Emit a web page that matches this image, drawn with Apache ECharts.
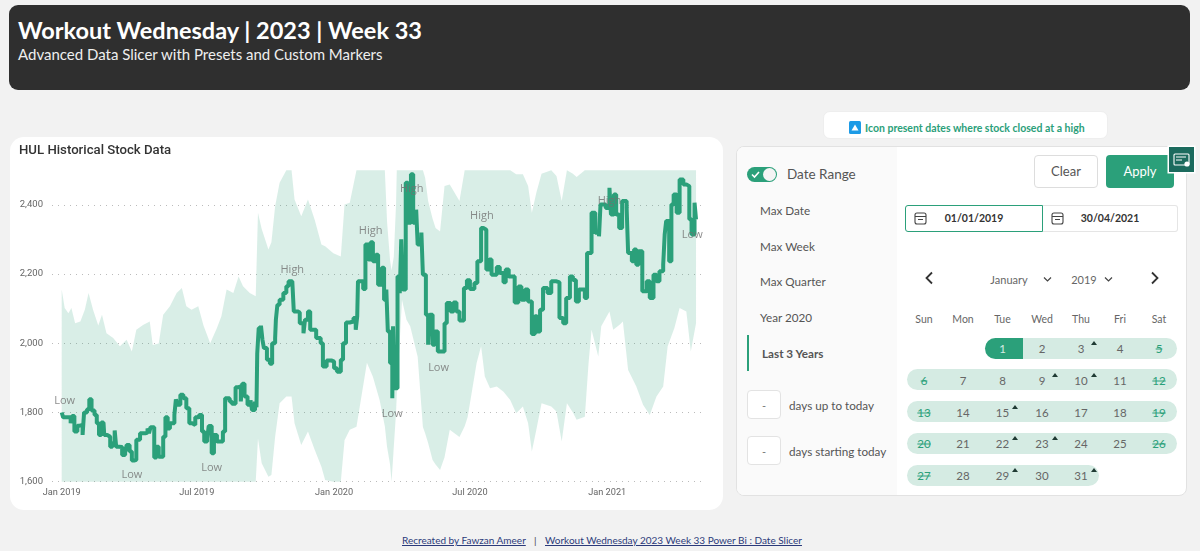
<!DOCTYPE html>
<html>
<head>
<meta charset="utf-8">
<title>Workout Wednesday 2023 Week 33</title>
<script src="https://cdn.jsdelivr.net/npm/echarts@6/dist/echarts.min.js"></script>
<style>
    html, body { margin: 0; padding: 0; background: #f2f2f2; }
    body { width: 1200px; height: 551px; position: relative; overflow: hidden; font-family: Lato, sans-serif; color: #555; }
    .abs { position: absolute; white-space: nowrap; }
    .mid { transform: translateY(-50%); }
    .ctr { transform: translate(-50%, -50%); }
    .box { position: absolute; box-sizing: border-box; background: #fff; }
    #header { left: 9px; top: 5px; width: 1181px; height: 85px; background: #2f2f2f; border-radius: 9px; }
    #card { left: 10px; top: 137px; width: 713px; height: 373px; border-radius: 14px; }
    #main { position: absolute; left: 10px; top: 137px; width: 713px; height: 373px; }
    #panel { left: 736px; top: 146px; width: 451px; height: 350px; border: 1px solid #e2e2e2; border-radius: 8px; overflow: hidden; }
    #panelLeft { position: absolute; left: 0; top: 0; width: 160px; height: 100%; background: #fafafa; }
    .menu { font-size: 11.7px; color: #555; }
    .pill { position: absolute; height: 21px; background: #d5ebe3; border-radius: 11px; }
    .day { font-size: 11.5px; color: #666; }
    .off { color: #2ba07a; text-decoration: line-through; }
    .up { position: absolute; width: 0; height: 0; border-left: 3.5px solid transparent; border-right: 3.5px solid transparent; border-bottom: 4px solid #1f3a33; }
    a { color: #2b3a7a; font-size: 10px; }
</style>
</head>
<body>
    <div class="box" id="header"></div>
    <div class="abs" style="left:18px;top:30px;transform:translateY(-50%);font-size:23.5px;font-weight:700;color:#fff">Workout Wednesday | 2023 | Week 33</div>
    <div class="abs" style="left:18px;top:54px;transform:translateY(-50%);font-size:15px;color:#eee">Advanced Data Slicer with Presets and Custom Markers</div>

    <div class="box" id="card"></div>
    <div id="main"></div>

    <div class="box" style="left:823px;top:111px;width:285px;height:28px;border-radius:7px;border:1px solid #eee"></div>
    <svg class="abs" style="left:849px;top:121px" width="12" height="13"><rect width="12" height="13" rx="1.5" fill="#1d9be6"/><path d="M6 3.5L9.5 9.5H2.5Z" fill="#fff"/></svg>
    <div class="abs mid" style="left:865px;top:128px;font-size:10.5px;font-weight:700;color:#2ba07a">Icon present dates where stock closed at a high</div>

    <div class="box" id="panel"><div id="panelLeft"></div></div>
    <div class="abs" style="left:747px;top:167px;width:30px;height:15px;border-radius:8px;background:#2ba07a"></div>
    <div class="abs" style="left:763px;top:168px;width:13px;height:13px;border-radius:50%;background:#f4f4f4"></div>
    <svg class="abs" style="left:751px;top:170px" width="9" height="9"><path d="M1 4.5L3.5 7L8 2" stroke="#fff" stroke-width="1.6" fill="none"/></svg>
    <div class="abs mid" style="left:787px;top:174px;font-size:13.5px;color:#555">Date Range</div>
    <div class="abs mid menu" style="left:760px;top:210px">Max Date</div>
    <div class="abs mid menu" style="left:760px;top:246px">Max Week</div>
    <div class="abs mid menu" style="left:760px;top:281px">Max Quarter</div>
    <div class="abs mid menu" style="left:760px;top:317px">Year 2020</div>
    <div class="abs mid menu" style="left:762px;top:353px;font-weight:700">Last 3 Years</div>
    <div class="abs" style="left:747px;top:335px;width:2px;height:36px;background:#2ba07a"></div>
    <div class="box" style="left:747px;top:390px;width:34px;height:29px;border:1px solid #e3e3e3;border-radius:4px"></div>
    <div class="abs ctr" style="left:764px;top:405px;font-size:11px;color:#777">-</div>
    <div class="abs mid menu" style="left:789px;top:405px">days up to today</div>
    <div class="box" style="left:747px;top:436px;width:34px;height:29px;border:1px solid #e3e3e3;border-radius:4px"></div>
    <div class="abs ctr" style="left:764px;top:451px;font-size:11px;color:#777">-</div>
    <div class="abs mid menu" style="left:789px;top:451px">days starting today</div>

    <div class="box" style="left:1034px;top:155px;width:64px;height:33px;border:1px solid #ddd;border-radius:4px"></div>
    <div class="abs ctr" style="left:1066px;top:171px;font-size:13px;color:#555">Clear</div>
    <div class="box" style="left:1106px;top:155px;width:68px;height:33px;background:#2ba07a;border-radius:4px"></div>
    <div class="abs ctr" style="left:1140px;top:171px;font-size:13px;color:#fff">Apply</div>
    <svg class="abs" style="left:1167px;top:145px" width="29" height="29"><rect x="0.5" y="0.5" width="28" height="28" fill="#fff"/><rect x="2" y="2" width="25" height="25" fill="#1c6b5e"/><rect x="7" y="9" width="15" height="11" rx="1" fill="none" stroke="#fff" stroke-width="1.1"/><path d="M9 12H19M9 15H15" stroke="#fff" stroke-width="1"/><circle cx="20" cy="19" r="2.6" fill="#fff"/></svg>

    <div class="box" style="left:905px;top:205px;width:138px;height:27px;border:1px solid #2ba07a;border-radius:3px 0 0 3px"></div>
    <div class="box" style="left:1043px;top:205px;width:135px;height:27px;border:1px solid #e5e5e5;border-left:0;border-radius:0 3px 3px 0"></div>
    <svg class="abs" style="left:914px;top:212px" width="13" height="13"><rect x="1" y="1" width="11" height="11" rx="2" fill="none" stroke="#444" stroke-width="1.1"/><path d="M1 4.5H12M4 7.5H9" stroke="#444" stroke-width="1"/></svg>
    <svg class="abs" style="left:1051px;top:212px" width="13" height="13"><rect x="1" y="1" width="11" height="11" rx="2" fill="none" stroke="#444" stroke-width="1.1"/><path d="M1 4.5H12M4 7.5H9" stroke="#444" stroke-width="1"/></svg>
    <div class="abs ctr" style="left:974px;top:218px;font-size:10.5px;font-weight:700;color:#333">01/01/2019</div>
    <div class="abs ctr" style="left:1110px;top:218px;font-size:10.5px;font-weight:700;color:#333">30/04/2021</div>

    <svg class="abs" style="left:924px;top:271px" width="10" height="14"><path d="M8 1.5L2.5 7L8 12.5" stroke="#333" stroke-width="1.8" fill="none"/></svg>
    <svg class="abs" style="left:1150px;top:271px" width="10" height="14"><path d="M2 1.5L7.5 7L2 12.5" stroke="#333" stroke-width="1.8" fill="none"/></svg>
    <div class="abs ctr" style="left:1009px;top:279px;font-size:11px;color:#666">January</div>
    <svg class="abs" style="left:1043px;top:276px" width="9" height="7"><path d="M1 1.5L4.5 5L8 1.5" stroke="#444" stroke-width="1.2" fill="none"/></svg>
    <div class="abs ctr" style="left:1084px;top:279px;font-size:11px;color:#666">2019</div>
    <svg class="abs" style="left:1104px;top:276px" width="9" height="7"><path d="M1 1.5L4.5 5L8 1.5" stroke="#444" stroke-width="1.2" fill="none"/></svg>

    <div id="calendar"></div>

    <a class="abs mid" style="left:402px;top:540px" href="#">Recreated by Fawzan Ameer</a>
    <div class="abs mid" style="left:534px;top:540px;font-size:10px;color:#444">|</div>
    <a class="abs mid" style="left:545px;top:540px" href="#">Workout Wednesday 2023 Week 33 Power Bi : Date Slicer</a>

    <script>
        // x axis is days since 1 Jan 2019
        var tickDays = [0, 181, 365, 547, 731];
        var tickLabels = ['Jan 2019', 'Jul 2019', 'Jan 2020', 'Jul 2020', 'Jan 2021'];
        var yTicks = [1600, 1800, 2000, 2200, 2400];

        var closeDays = [0, 2, 9, 12, 14, 17, 21, 24, 28, 30, 34, 37, 40, 44, 47, 50, 53, 56, 57, 61, 65, 68, 71, 73, 77, 81, 85, 87, 91, 94, 97, 100, 105, 112, 115, 117, 119, 124, 127, 130, 133, 136, 139, 142, 145, 151, 153, 155, 159, 163, 167, 171, 175, 179, 184, 188, 191, 195, 197, 201, 204, 208, 216, 219, 225, 228, 233, 237, 240, 242, 245, 249, 253, 255, 259, 261, 262, 264, 267, 269, 271, 275, 279, 282, 286, 287, 289, 292, 297, 301, 304, 309, 311, 316, 319, 324, 326, 330, 333, 337, 341, 347, 350, 355, 362, 365, 369, 374, 377, 381, 386, 391, 394, 396, 397, 404, 407, 411, 414, 417, 421, 424, 429, 432, 435, 437, 440, 443, 444, 446, 450, 453, 455, 457, 461, 464, 468, 471, 475, 477, 482, 484, 488, 491, 493, 497, 500, 504, 510, 513, 516, 521, 525, 529, 533, 539, 543, 547, 553, 557, 562, 565, 569, 573, 576, 583, 587, 592, 595, 599, 607, 612, 616, 621, 625, 630, 634, 637, 641, 645, 651, 656, 663, 667, 672, 676, 681, 685, 689, 693, 701, 704, 710, 715, 720, 722, 729, 734, 736, 740, 743, 747, 751, 757, 759, 764, 767, 770, 773, 778, 784, 788, 793, 797, 801, 806, 808, 810, 814, 817, 820, 824, 828, 833, 837, 841, 844, 848, 850];
        var closes = [1800, 1786, 1786, 1769, 1790, 1745, 1762, 1764, 1735, 1800, 1809, 1838, 1806, 1793, 1769, 1735, 1771, 1773, 1735, 1730, 1701, 1711, 1748, 1701, 1700, 1677, 1684, 1706, 1687, 1661, 1663, 1721, 1740, 1742, 1754, 1740, 1757, 1670, 1701, 1672, 1672, 1730, 1786, 1754, 1769, 1793, 1838, 1822, 1851, 1841, 1812, 1769, 1764, 1786, 1793, 1745, 1716, 1725, 1761, 1682, 1735, 1716, 1745, 1841, 1832, 1825, 1873, 1875, 1832, 1883, 1846, 1822, 1835, 1807, 1832, 1815, 1970, 2044, 2051, 2010, 1986, 1952, 1941, 2000, 2015, 2068, 2111, 2126, 2145, 2165, 2179, 2179, 2092, 2089, 2058, 2029, 2068, 2092, 2039, 2039, 2015, 2000, 1933, 1950, 1947, 1928, 1918, 1952, 2000, 2060, 2063, 2073, 2039, 2078, 2179, 2157, 2285, 2242, 2292, 2237, 2256, 2169, 2218, 2126, 2155, 2034, 1943, 1841, 2049, 1870, 2193, 2145, 2300, 2155, 2464, 2348, 2488, 2348, 2386, 2285, 2320, 2198, 2082, 1996, 2082, 1996, 2034, 1976, 1976, 2058, 2116, 2092, 2118, 2092, 2066, 2160, 2182, 2157, 2174, 2237, 2333, 2328, 2213, 2242, 2198, 2220, 2203, 2176, 2213, 2193, 2118, 2164, 2126, 2155, 2121, 2027, 2078, 2034, 2097, 2160, 2145, 2179, 2176, 2073, 2058, 2131, 2193, 2183, 2121, 2155, 2131, 2261, 2377, 2319, 2309, 2401, 2391, 2449, 2372, 2430, 2372, 2333, 2411, 2391, 2261, 2237, 2271, 2227, 2266, 2150, 2179, 2131, 2198, 2179, 2208, 2227, 2314, 2353, 2237, 2401, 2430, 2377, 2473, 2459, 2454, 2358, 2314, 2406, 2358];

        var bandDays = [0, 4, 9, 13, 18, 25, 31, 36, 42, 49, 54, 60, 69, 78, 87, 94, 100, 109, 118, 122, 130, 136, 145, 154, 161, 167, 174, 183, 190, 199, 208, 214, 221, 230, 237, 243, 252, 260, 263, 268, 277, 281, 286, 292, 301, 308, 312, 321, 330, 339, 348, 353, 364, 374, 379, 386, 395, 409, 417, 426, 433, 436, 440, 442, 445, 448, 449, 456, 462, 467, 477, 484, 487, 491, 497, 501, 507, 513, 520, 533, 540, 544, 556, 562, 567, 574, 583, 592, 601, 609, 618, 625, 630, 636, 643, 656, 663, 670, 677, 685, 690, 701, 706, 710, 719, 723, 734, 739, 748, 752, 759, 770, 779, 788, 797, 806, 812, 821, 828, 837, 843, 850];
        var bandLow = [1600, 1600, 1600, 1600, 1600, 1600, 1600, 1600, 1600, 1600, 1600, 1600, 1600, 1600, 1600, 1600, 1600, 1600, 1600, 1600, 1600, 1600, 1600, 1600, 1600, 1600, 1600, 1600, 1600, 1600, 1600, 1600, 1600, 1600, 1600, 1600, 1600, 1600, 1725, 1653, 1614, 1619, 1730, 1827, 1846, 1846, 1769, 1706, 1745, 1692, 1643, 1605, 1600, 1600, 1720, 1750, 1759, 1944, 1903, 1836, 1760, 1700, 1650, 1600, 1700, 1800, 1850, 2126, 2068, 2049, 1961, 1758, 1740, 1712, 1663, 1650, 1634, 1671, 1750, 1729, 1760, 1787, 1943, 1991, 1904, 1870, 1875, 1860, 1836, 1798, 1817, 1769, 1687, 1750, 1827, 1817, 1803, 1716, 1827, 1800, 1779, 1788, 1943, 2039, 1962, 2049, 2092, 2039, 2054, 2063, 1923, 1875, 1822, 1793, 1846, 1875, 1991, 2044, 2102, 2092, 1976, 2058];
        var bandHigh = [2155, 2102, 2087, 2102, 2058, 2063, 2097, 2145, 2097, 2051, 2082, 2029, 2015, 1991, 2010, 1976, 2039, 2053, 2063, 1995, 1999, 2082, 2107, 2145, 2160, 2107, 2097, 2107, 2051, 2000, 2044, 2078, 2155, 2145, 2193, 2165, 2145, 2136, 2377, 2330, 2271, 2292, 2396, 2464, 2500, 2500, 2415, 2367, 2415, 2357, 2285, 2280, 2260, 2251, 2401, 2406, 2500, 2500, 2500, 2500, 2500, 2350, 2240, 2210, 2250, 2400, 2500, 2500, 2500, 2500, 2500, 2500, 2478, 2411, 2360, 2333, 2323, 2454, 2459, 2411, 2500, 2500, 2500, 2500, 2500, 2500, 2500, 2500, 2500, 2488, 2488, 2454, 2377, 2435, 2490, 2500, 2483, 2411, 2500, 2490, 2480, 2500, 2500, 2500, 2500, 2500, 2500, 2500, 2500, 2500, 2500, 2500, 2500, 2500, 2500, 2500, 2500, 2500, 2500, 2500, 2500, 2500];

        var markerNames = ['Low', 'Low', 'Low', 'High', 'High', 'High', 'Low', 'Low', 'High', 'High', 'Low'];
        var markerDays = [4, 94, 201, 309, 414, 469, 443, 505, 563, 734, 845];
        var markerValues = [1834, 1619, 1640, 2212, 2324, 2447, 1796, 1930, 2367, 2410, 2313];

        var chartFont = 'Roboto';

        // band as one polygon, x/y go through the axes via api.coord
        function renderBand(params, api) {
            if (params.dataIndex !== 0) {
                return null;
            }
            var upper = bandDays.map(function (d, i) { return api.coord([d, bandHigh[i]]); });
            var lower = bandDays.map(function (d, i) { return api.coord([d, bandLow[i]]); }).reverse();
            return {
                type: 'polygon',
                shape: { points: upper.concat(lower) },
                style: { fill: 'rgba(43,160,122,0.18)' }
            };
        }

        var myChart = echarts.init(document.getElementById('main'));
        var option = {
            animation: false,
            title: {
                text: 'HUL Historical Stock Data',
                left: 4,
                top: 2,
                textStyle: { fontFamily: chartFont, fontSize: 13.2, fontWeight: 500, color: '#333' }
            },
            grid: { left: 42, right: 21, top: 33.2, bottom: 28.3 },
            xAxis: {
                type: 'value',
                min: -13,
                max: 858,
                splitLine: { show: false },
                axisLine: { show: false },
                axisTick: { show: false },
                axisLabel: {
                    customValues: tickDays,
                    margin: 6,
                    fontFamily: chartFont,
                    fontSize: 9.2,
                    color: '#666',
                    formatter: function (v) { return tickLabels[tickDays.indexOf(v)]; }
                }
            },
            yAxis: {
                type: 'value',
                min: 1600,
                max: 2500,
                axisLine: { show: false },
                axisTick: { show: false, customValues: yTicks },
                splitLine: { lineStyle: { type: [1, 5], color: '#bbb', width: 1 } },
                axisLabel: {
                    customValues: yTicks,
                    margin: 9,
                    padding: [3, 0, 0, 0],
                    fontFamily: chartFont,
                    fontSize: 9.5,
                    color: '#666',
                    formatter: function (v) { return v.toLocaleString('en-US'); }
                }
            },
            series: [
                {
                    type: 'custom',
                    silent: true,
                    renderItem: renderBand,
                    encode: { x: 0, y: [1, 2] },
                    data: bandDays.map(function (d, i) { return [d, bandLow[i], bandHigh[i]]; })
                },
                {
                    type: 'line',
                    step: 'end',
                    showSymbol: false,
                    lineStyle: { width: 4, color: '#2ba07a' },
                    data: closeDays.map(function (d, i) { return [d, closes[i]]; })
                },
                {
                    type: 'scatter',
                    symbolSize: 0,
                    z: 5,
                    label: {
                        show: true,
                        position: 'inside',
                        fontFamily: 'Open Sans',
                        fontSize: 11,
                        color: '#707070',
                        formatter: function (p) { return p.name; }
                    },
                    data: markerDays.map(function (d, i) {
                        return { name: markerNames[i], value: [d, markerValues[i]] };
                    })
                }
            ]
        };
        myChart.setOption(option);

        // calendar cells
        var weekDays = ['Sun', 'Mon', 'Tue', 'Wed', 'Thu', 'Fri', 'Sat'];
        var colX = [924, 963, 1002.5, 1042, 1081, 1120, 1159];
        var rowY = [348, 379.5, 411.5, 443, 475];
        var highDays = [3, 9, 10, 15, 22, 23, 29, 31];
        var firstCol = 2;
        var daysInMonth = 31;
        var cal = document.getElementById('calendar');
        var html = '';
        weekDays.forEach(function (w, i) {
            html += '<div class="abs ctr day" style="left:' + colX[i] + 'px;top:319px;font-size:10.5px">' + w + '</div>';
        });
        html += '<div class="pill" style="left:985px;top:337.5px;width:192px"></div>';
        html += '<div class="pill" style="left:907px;top:369px;width:270px"></div>';
        html += '<div class="pill" style="left:907px;top:401px;width:270px"></div>';
        html += '<div class="pill" style="left:907px;top:432.5px;width:270px"></div>';
        html += '<div class="pill" style="left:907px;top:464.5px;width:192px"></div>';
        html += '<div class="abs" style="left:985px;top:337.5px;width:38px;height:21px;background:#2ba07a;border-radius:11px 0 0 11px"></div>';
        for (var d = 1; d <= daysInMonth; d++) {
            var pos = d - 1 + firstCol;
            var col = pos % 7;
            var row = Math.floor(pos / 7);
            var cls = 'abs ctr day' + (col === 0 || col === 6 ? ' off' : '');
            var extra = d === 1 ? ';color:#d5ebe3' : '';
            html += '<div class="' + cls + '" style="left:' + colX[col] + 'px;top:' + rowY[row] + 'px' + extra + '">' + d + '</div>';
            if (highDays.indexOf(d) >= 0) {
                html += '<div class="up" style="left:' + (colX[col] + 9.5) + 'px;top:' + (rowY[row] - 7) + 'px"></div>';
            }
        }
        cal.innerHTML = html;
    </script>
</body>
</html>
